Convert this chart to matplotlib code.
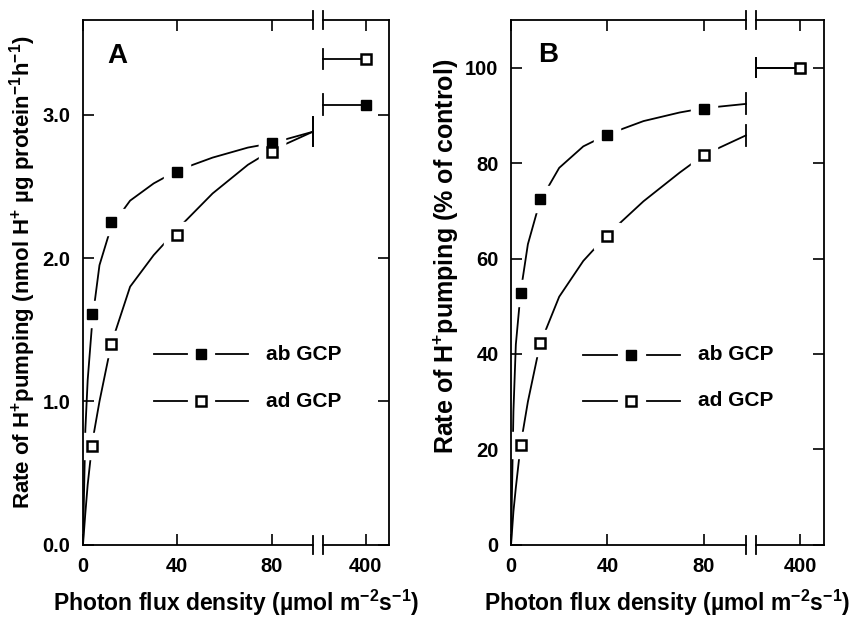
import numpy as np
import matplotlib
matplotlib.use('Agg')
import matplotlib.pyplot as plt

plt.rcParams['font.family'] = ['Liberation Sans', 'DejaVu Sans']
plt.rcParams['font.weight'] = 'bold'
plt.rcParams['mathtext.fontset'] = 'custom'
plt.rcParams['mathtext.rm'] = 'Liberation Sans:bold'
plt.rcParams['mathtext.it'] = 'Liberation Sans:bold'
plt.rcParams['mathtext.bf'] = 'Liberation Sans:bold'

# -------------------- data --------------------
# photon flux density (umol m-2 s-1); 400 sits after the axis break
flux = [4, 12, 40, 80, 400]

# panel A: nmol H+ / ug protein / h
a_ab = [1.61, 2.25, 2.60, 2.80, 3.07]
a_ad = [0.69, 1.40, 2.16, 2.74, 3.39]
# panel B: % of control (400 is the control, both 100)
b_ab = [52.7, 72.4, 85.9, 91.3, 100.0]
b_ad = [21.0, 42.4, 64.8, 81.7, 100.0]

# hand drawn fitted curves (0 .. break)
curve_x = [0, 1, 2, 4, 7, 12, 20, 30, 40, 55, 70, 80, 97.5]
a_ab_curve = [0, 0.80, 1.15, 1.57, 1.95, 2.22, 2.40, 2.52, 2.61, 2.70, 2.77, 2.80, 2.88]
a_ad_curve = [0, 0.22, 0.42, 0.72, 1.00, 1.40, 1.80, 2.02, 2.20, 2.45, 2.65, 2.75, 2.88]
b_ab_curve = [0, 28, 42, 53, 63, 72, 79, 83.5, 86, 88.8, 90.6, 91.5, 92.4]
b_ad_curve = [0, 7, 12, 21, 30, 42, 52, 59.5, 65, 72, 78, 81.7, 85.8]

xticklabels = ['0', '40', '80', '400']

# -------------------- broken x axis helpers --------------------
BREAK_L, BREAK_R = 97.5, 101.8
POS_400 = 120.0
XMAX = 130.0


def xpos(x):
    x = np.asarray(x, dtype=float)
    return np.where(x > 100, POS_400, x)


def setup_axes(ax, ymax, yticks, yfmt):
    ax.set_xlim(0, XMAX)
    ax.set_ylim(0, ymax)
    ax.set_xticks([0, 40, 80, POS_400])
    ax.set_xticklabels(xticklabels)
    ax.set_yticks(yticks)
    ax.set_yticklabels([yfmt.format(v) for v in yticks])
    ax.tick_params(direction='in', top=True, right=True, length=8, width=1.2,
                   labelsize=14.5, pad=9)
    for s in ['left', 'right']:
        ax.spines[s].set_linewidth(1.3)
        ax.spines[s].set_zorder(6)
    ax.spines['top'].set_visible(False)
    ax.spines['bottom'].set_visible(False)
    tr = ax.get_xaxis_transform()
    for yy in (0, 1):
        ax.plot([0, BREAK_L], [yy, yy], color='k', lw=1.3, transform=tr,
                clip_on=False, zorder=6)
        ax.plot([BREAK_R, XMAX], [yy, yy], color='k', lw=1.3, transform=tr,
                clip_on=False, zorder=6)
        for bx in (BREAK_L, BREAK_R):
            ax.plot([bx, bx], [yy - 0.017, yy + 0.017], color='k', lw=1.3,
                    transform=tr, clip_on=False, zorder=6)


def draw_series(ax, ys, curve, filled, end_half, cap_half):
    ax.plot(curve_x, curve, color='k', lw=1.3, zorder=2)
    xp = xpos(flux)
    # white halo so the curve stops short of each symbol
    ax.plot(xp[:-1], ys[:-1], ls='none', marker='s', ms=19, mfc='white',
            mec='white', zorder=3)
    # segment from the break to the 400 point
    ax.plot([BREAK_R, xp[-1]], [ys[-1], ys[-1]], color='k', lw=1.3, zorder=2)
    ax.plot([BREAK_R, BREAK_R], [ys[-1] - cap_half, ys[-1] + cap_half],
            color='k', lw=1.3, zorder=2)
    ax.plot([BREAK_L, BREAK_L], [curve[-1] - end_half, curve[-1] + end_half],
            color='k', lw=1.3, zorder=2)
    if filled:
        ax.plot(xp, ys, ls='none', marker='s', ms=7.5, mfc='k', mec='k', zorder=4)
    else:
        ax.plot(xp, ys, ls='none', marker='s', ms=7, mfc='white', mec='k',
                mew=1.8, zorder=4)


def draw_key(ax, y_ab, y_ad):
    for yy, filled, lab in [(y_ab, True, 'ab GCP'), (y_ad, False, 'ad GCP')]:
        ax.plot([30, 44], [yy, yy], color='k', lw=1.3)
        ax.plot([56.5, 70], [yy, yy], color='k', lw=1.3)
        if filled:
            ax.plot([50], [yy], ls='none', marker='s', ms=7.5, mfc='k', mec='k')
        else:
            ax.plot([50], [yy], ls='none', marker='s', ms=7, mfc='white',
                    mec='k', mew=1.8)
        ax.text(77.5, yy, lab, fontsize=15, fontweight='bold', va='center', ha='left')


fig = plt.figure(figsize=(8.51, 6.22), dpi=100)
axA = fig.add_axes([0.0975, 0.124, 0.36, 0.844])
axB = fig.add_axes([0.6005, 0.124, 0.368, 0.844])

# ---- panel A
setup_axes(axA, 3.66, [0.0, 1.0, 2.0, 3.0], '{:.1f}')
draw_series(axA, a_ab, a_ab_curve, True, 0.10, 0.07)
draw_series(axA, a_ad, a_ad_curve, False, 0.10, 0.07)
draw_key(axA, 1.33, 1.0)
axA.text(14.4, 3.41, 'A', fontsize=20, fontweight='bold', va='center', ha='center')
axA.set_ylabel('Rate of H$^{+}$pumping (nmol H$^{+}$ \u00b5g protein$^{-1}$h$^{-1}$)',
               fontsize=16, fontweight='bold')
axA.yaxis.set_label_coords(-0.147, 0.52)
axA.set_xlabel('Photon flux density (\u00b5mol m$^{-2}$s$^{-1}$)',
               fontsize=16.5, fontweight='bold', labelpad=8)

# ---- panel B
setup_axes(axB, 110, [0, 20, 40, 60, 80, 100], '{:.0f}')
draw_series(axB, b_ab, b_ab_curve, True, 2.2, 2.0)
draw_series(axB, b_ad, b_ad_curve, False, 2.2, 2.0)
draw_key(axB, 39.8, 30.2)
axB.text(15.5, 102.7, 'B', fontsize=20, fontweight='bold', va='center', ha='center')
axB.set_ylabel('Rate of H$^{+}$pumping (% of control)',
               fontsize=18, fontweight='bold')
axB.yaxis.set_label_coords(-0.16, 0.55)
axB.set_xlabel('Photon flux density (\u00b5mol m$^{-2}$s$^{-1}$)',
               fontsize=16.5, fontweight='bold', labelpad=8)

fig.savefig('out.png', dpi=100)
